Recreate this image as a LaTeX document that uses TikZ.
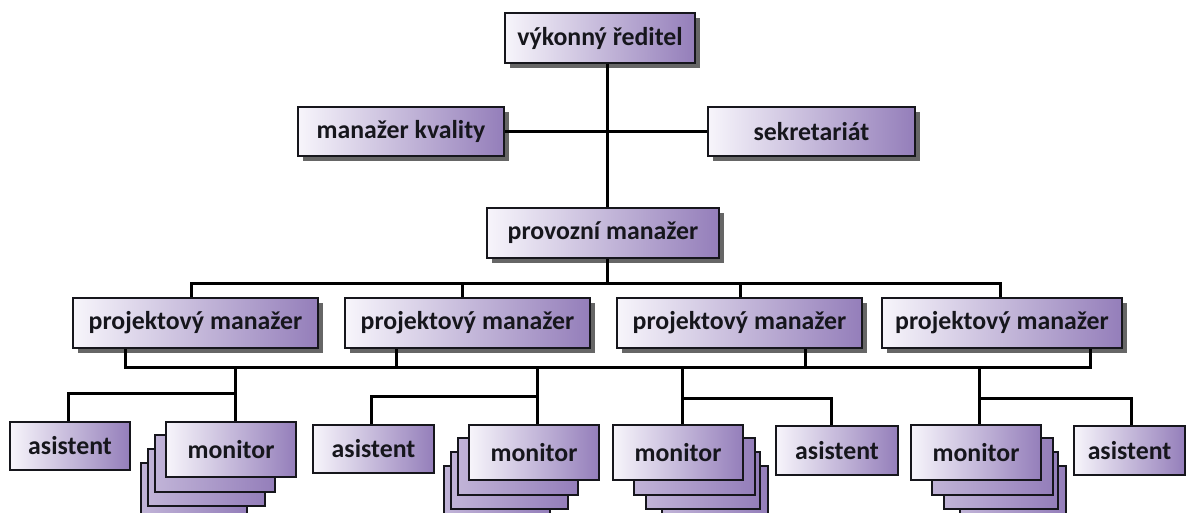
\documentclass[tikz,border=0pt]{standalone}
\usepackage{fontspec}
\setmainfont{Carlito}
\usetikzlibrary{shadows,calc}
\pgfdeclarelayer{paper}
\pgfdeclarelayer{back}
\pgfsetlayers{paper,back,main}
\definecolor{boxlight}{RGB}{247,245,251}
\definecolor{boxdark}{RGB}{148,126,186}
\definecolor{ink}{RGB}{22,22,28}
\tikzset{
  unitbox/.style={draw=ink, line width=1pt, left color=boxlight, right color=boxdark,
    font=\fontsize{12.9}{14}\selectfont\bfseries, text=ink, inner sep=0pt},
  bx/.style 2 args={minimum width=#1*0.5pt, minimum height=#2*0.5pt},
  shadowed/.style={drop shadow={shadow xshift=2.6pt, shadow yshift=-2.6pt,
    fill=black!70, opacity=0.85}},
  link/.style={draw=black, line width=1.5pt},
  stackbox/.style={draw=ink, line width=1pt, left color=boxlight!45!boxdark, right color=boxdark},
}
\begin{document}
\begin{tikzpicture}[x=0.5pt, y=-0.5pt]
  \begin{pgfonlayer}{paper}
    \fill[white] (0,0) rectangle (1187,513);
  \end{pgfonlayer}
  \useasboundingbox (0,0) rectangle (1187,513);

  % management
  \node[unitbox, shadowed, bx={190}{50}] (ceo) at (600,38) {výkonný ředitel};
  \node[unitbox, shadowed, bx={206}{49}] (mk) at (401,131.5) {manažer kvality};
  \node[unitbox, shadowed, bx={207}{49}] (sek) at (811.5,131.5) {sekretariát};
  \node[unitbox, shadowed, bx={232}{50}] (prov) at (603,233) {provozní manažer};

  % project managers
  \node[unitbox, shadowed, bx={245}{50}] (pm1) at (195.5,323) {projektový manažer};
  \node[unitbox, shadowed, bx={245}{50}] (pm2) at (467.5,323) {projektový manažer};
  \node[unitbox, shadowed, bx={245}{50}] (pm3) at (739.5,323) {projektový manažer};
  \node[unitbox, shadowed, bx={240}{50}] (pm4) at (1002,323) {projektový manažer};

  % teams
  \node[unitbox, bx={120}{48}] (as1) at (70,446) {asistent};
  \node[unitbox, bx={130}{55}] (mon1) at (231,449.5) {monitor};
  \node[unitbox, bx={121}{48}] (as2) at (373.5,449) {asistent};
  \node[unitbox, bx={130}{55}] (mon2) at (534,452.5) {monitor};
  \node[unitbox, bx={130}{55}] (mon3) at (678,452.5) {monitor};
  \node[unitbox, bx={122}{49}] (as3) at (837,450.5) {asistent};
  \node[unitbox, bx={130}{55}] (mon4) at (976,452.5) {monitor};
  \node[unitbox, bx={111}{49}] (as4) at (1129.5,450.5) {asistent};

  % stacked monitor sheets behind the front boxes
  \begin{pgfonlayer}{back}
    \foreach \m in {mon1,mon2} {
      \draw[stackbox] ($(\m.north west)+(-24,42)$) rectangle ($(\m.south east)+(-50,42)$);
      \draw[stackbox] ($(\m.north west)+(-17,28)$) rectangle ($(\m.south east)+(-32,28)$);
      \draw[stackbox] ($(\m.north west)+(-10,14)$) rectangle ($(\m.south east)+(-22,14)$);
    }
    \foreach \m in {mon3,mon4} {
      \draw[stackbox] ($(\m.north west)+(50,42)$) rectangle ($(\m.south east)+(24,42)$);
      \draw[stackbox] ($(\m.north west)+(34,28)$) rectangle ($(\m.south east)+(16,28)$);
      \draw[stackbox] ($(\m.north west)+(22,14)$) rectangle ($(\m.south east)+(11,14)$);
    }
  \end{pgfonlayer}

  % spine from the director down to operations
  \coordinate (spine) at (607,0);
  \draw[link] (ceo.south -| spine) -- (prov.north -| spine);
  \draw[link] (mk.east) -- (mk.east -| spine);
  \draw[link] (sek.west) -- (sek.west -| spine);

  % bus to the project managers
  \coordinate (bus1) at (0,283);
  \coordinate (u1) at ($(pm1.north)+(-4,0)$);
  \coordinate (u2) at ($(pm2.north)+(-5,0)$);
  \coordinate (u3) at ($(pm3.north)+(1,0)$);
  \coordinate (u4) at ($(pm4.north)+(-2,0)$);
  \draw[link] (prov.south -| spine) -- (spine |- bus1);
  \draw[link] (u1) -- (u1 |- bus1) -- (u4 |- bus1) -- (u4);
  \draw[link] (u2) -- (u2 |- bus1);
  \draw[link] (u3) -- (u3 |- bus1);

  % bus below the project managers
  \coordinate (bus2) at (0,367);
  \coordinate (d1) at ($(pm1.south)+(-70,0)$);
  \coordinate (d2) at ($(pm2.south)+(-71,0)$);
  \coordinate (d3) at ($(pm3.south)+(66,0)$);
  \coordinate (d4) at ($(pm4.south)+(88,0)$);
  \draw[link] (d1) -- (d1 |- bus2) -- (d4 |- bus2) -- (d4);
  \draw[link] (d2) -- (d2 |- bus2);
  \draw[link] (d3) -- (d3 |- bus2);

  % team drops
  \coordinate (t1) at ($(mon1.north)+(4,0)$);
  \coordinate (t2) at ($(mon2.north)+(3,0)$);
  \coordinate (t3) at ($(mon3.north)+(4,0)$);
  \coordinate (t4) at ($(mon4.north)+(3,0)$);
  \draw[link] (t1 |- bus2) -- (t1);
  \draw[link] (t2 |- bus2) -- (t2);
  \draw[link] (t3 |- bus2) -- (t3);
  \draw[link] (t4 |- bus2) -- (t4);
  \draw[link] ($(as1.north)+(-2,0)$) |- (t1 |- 0,393);
  \draw[link] ($(as2.north)+(-2,0)$) |- (t2 |- 0,396);
  \draw[link] ($(as3.north)+(-6,0)$) |- (t3 |- 0,398);
  \draw[link] ($(as4.north)+(2,0)$) |- (t4 |- 0,398);
\end{tikzpicture}
\end{document}
